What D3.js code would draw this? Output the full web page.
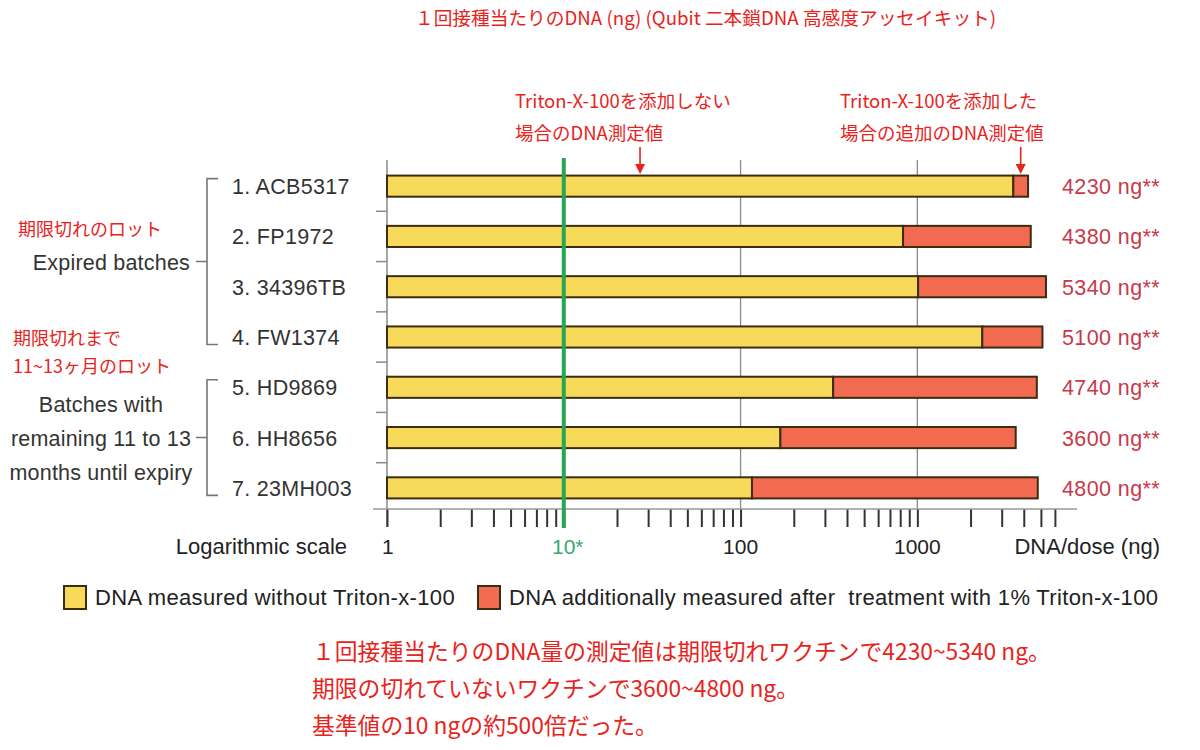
<!DOCTYPE html>
<html>
<head>
<meta charset="utf-8">
<script src="https://cdn.jsdelivr.net/npm/d3@7"></script>
<style>
  body { margin: 0; background: #fff; }
  svg { display: block; }
  .lat { font-family: "Liberation Sans", Arial, sans-serif; white-space: pre; }
  .jp { font-family: "Noto Sans CJK JP", sans-serif; }
</style>
</head>
<body>
<svg width="1200" height="750"></svg>
<script>
// data
const batches = ["1. ACB5317", "2. FP1972", "3. 34396TB", "4. FW1374", "5. HD9869", "6. HH8656", "7. 23MH003"];
const withoutTriton = [3490, 830, 1010, 2330, 334, 168, 116];
const totalDna = [4230, 4380, 5340, 5100, 4740, 3600, 4800];
const tickLabels = [[1, "1"], [10, "10*"], [100, "100"], [1000, "1000"]];
const minorTicks = [1, 2, 3, 4, 5, 6, 7, 8, 9, 10, 20, 30, 40, 50, 60, 70, 80, 90, 100,
  200, 300, 400, 500, 600, 700, 800, 900, 1000, 2000, 3000, 4000, 5000, 6000];
const groups = [
  { from: 0, to: 3, lines: ["Expired batches"], jp: ["期限切れのロット"] },
  { from: 4, to: 6, lines: ["Batches with", "remaining 11 to 13", "months until expiry"], jp: ["期限切れまで", "11~13ヶ月のロット"] }
];
const legendItems = ["DNA measured without Triton-x-100", "DNA additionally measured after\u00a0 treatment with 1% Triton-x-100"];
const bottomNotes = [
  "１回接種当たりのDNA量の測定値は期限切れワクチンで4230~5340 ng。",
  "期限の切れていないワクチンで3600~4800 ng。",
  "基準値の10 ngの約500倍だった。"
];

const red = "#e8231c";
const yellow = "#f8da5b";
const salmon = "#f26b50";
const outline = "#3b2c12";

const svg = d3.select("svg");

const x = d3.scaleLog().domain([1, 8000]).range([387, 1077]);
const y = d3.scaleBand().domain(batches).range([161, 513]).paddingInner(0.58).paddingOuter(0.29);
const bw = y.bandwidth();
const step = y.step();
const axisY = 509;
const plotTop = 160;

// title
svg.append("text").attr("class", "jp").attr("x", 415).attr("y", 25)
  .attr("font-size", 18.7).attr("fill", red)
  .text("１回接種当たりのDNA (ng) (Qubit 二本鎖DNA 高感度アッセイキット)");

// grid lines
svg.append("g").selectAll("line").data([100, 1000]).join("line")
  .attr("x1", d => x(d)).attr("x2", d => x(d))
  .attr("y1", plotTop).attr("y2", axisY)
  .attr("stroke", "#8a8a8a").attr("stroke-width", 1.3);

// left axis line + boundary ticks
svg.append("line").attr("x1", x(1)).attr("x2", x(1)).attr("y1", plotTop).attr("y2", axisY + 18)
  .attr("stroke", "#8a8a8a").attr("stroke-width", 1.5);
svg.append("g").selectAll("line").data(batches.slice(0, -1)).join("line")
  .attr("x1", x(1) - 11).attr("x2", x(1))
  .attr("y1", d => y(d) + bw + step * 0.29).attr("y2", d => y(d) + bw + step * 0.29)
  .attr("stroke", "#8a8a8a").attr("stroke-width", 1.5);

// bars
const rows = svg.append("g").selectAll("g").data(batches).join("g");
rows.append("rect")
  .attr("x", x(1)).attr("y", d => y(d))
  .attr("width", (d, i) => x(withoutTriton[i]) - x(1)).attr("height", bw)
  .attr("fill", yellow).attr("stroke", outline).attr("stroke-width", 2);
rows.append("rect")
  .attr("x", (d, i) => x(withoutTriton[i])).attr("y", d => y(d))
  .attr("width", (d, i) => x(totalDna[i]) - x(withoutTriton[i])).attr("height", bw)
  .attr("fill", salmon).attr("stroke", outline).attr("stroke-width", 2);

// value labels
rows.append("text").attr("class", "lat")
  .attr("x", 1062).attr("y", d => y(d) + bw / 2 + 8)
  .attr("font-size", 21.5).attr("letter-spacing", 0.4).attr("fill", "#c8394b")
  .text((d, i) => totalDna[i] + " ng**");

// batch labels
rows.append("text").attr("class", "lat")
  .attr("x", 232).attr("y", d => y(d) + bw / 2 + 8)
  .attr("font-size", 21.5).attr("letter-spacing", 0.3).attr("fill", "#333")
  .text(d => d);

// bottom axis
const axis = d3.axisBottom(x).tickValues(minorTicks).tickSize(18).tickSizeOuter(0).tickFormat("");
const ax = svg.append("g").attr("transform", `translate(0,${axisY})`).call(axis);
ax.select(".domain").remove();
ax.selectAll(".tick line").attr("stroke", "#333").attr("stroke-width", 2);
svg.append("line").attr("x1", x(1) - 14).attr("x2", x.range()[1]).attr("y1", axisY).attr("y2", axisY)
  .attr("stroke", "#999").attr("stroke-width", 1.3);

svg.append("g").selectAll("text").data(tickLabels).join("text").attr("class", "lat")
  .attr("x", d => x(d[0])).attr("y", 554)
  .attr("text-anchor", d => d[0] === 1 ? "start" : "middle")
  .attr("dx", d => d[0] === 1 ? -5 : (d[0] === 10 ? 4 : 0))
  .attr("font-size", 21)
  .attr("fill", d => d[0] === 10 ? "#3aa86a" : "#222")
  .text(d => d[1]);
svg.append("text").attr("class", "lat").attr("x", 347).attr("y", 554).attr("text-anchor", "end")
  .attr("font-size", 22).attr("fill", "#222").text("Logarithmic scale");
svg.append("text").attr("class", "lat").attr("x", 1160).attr("y", 554).attr("text-anchor", "end")
  .attr("font-size", 22).attr("fill", "#222").text("DNA/dose (ng)");

// reference line at 10 ng
svg.append("line").attr("x1", x(10)).attr("x2", x(10)).attr("y1", plotTop - 2).attr("y2", axisY + 19)
  .attr("stroke", "#27a653").attr("stroke-width", 4);

// group brackets
groups.forEach(g => {
  const y0 = y(batches[g.from]) + 3;
  const y1 = y(batches[g.to]) + bw - 3;
  const mid = (y0 + y1) / 2;
  svg.append("path")
    .attr("d", `M218,${y0}H207V${y1}H218M207,${mid}H196`)
    .attr("fill", "none").attr("stroke", "#777").attr("stroke-width", 1.6);
  const n = g.lines.length;
  g.lines.forEach((t, i) => {
    svg.append("text").attr("class", "lat")
      .attr("x", n > 1 ? 101 : 190).attr("text-anchor", n > 1 ? "middle" : "end")
      .attr("y", mid + 8 + (i - (n - 1) / 2) * 34)
      .attr("font-size", 21.5).attr("letter-spacing", 0.2).attr("fill", "#333").text(t);
  });
});
svg.append("text").attr("class", "jp").attr("x", 18).attr("y", 236)
  .attr("font-size", 18).attr("fill", red).text(groups[0].jp[0]);
groups[1].jp.forEach((t, i) => {
  svg.append("text").attr("class", "jp").attr("x", 13).attr("y", 345 + i * 28)
    .attr("font-size", 18).attr("fill", red).text(t);
});

// annotations with arrows
const notes = [
  { lines: ["Triton-X-100を添加しない", "場合のDNA測定値"], tx: 515, ax: x(27) },
  { lines: ["Triton-X-100を添加した", "場合の追加のDNA測定値"], tx: 840, ax: x(Math.sqrt(withoutTriton[0] * totalDna[0])) }
];
notes.forEach(n => {
  n.lines.forEach((t, i) => {
    svg.append("text").attr("class", "jp").attr("x", n.tx).attr("y", 108 + i * 32)
      .attr("font-size", 18.5).attr("fill", red).text(t);
  });
  svg.append("line").attr("x1", n.ax).attr("x2", n.ax).attr("y1", 147).attr("y2", 165)
    .attr("stroke", red).attr("stroke-width", 1.6);
  svg.append("path").attr("d", `M${n.ax - 5},${164}L${n.ax + 5},${164}L${n.ax},${174}Z`).attr("fill", red);
});

// legend
const legend = svg.append("g").attr("class", "lat");
const legX = [64, 478];
const legFill = [yellow, salmon];
legendItems.forEach((t, i) => {
  legend.append("rect").attr("x", legX[i]).attr("y", 586).attr("width", 22).attr("height", 23)
    .attr("fill", legFill[i]).attr("stroke", outline).attr("stroke-width", 2);
  legend.append("text").attr("x", legX[i] + 31).attr("y", 605)
    .attr("font-size", 22).attr("letter-spacing", 0.35).attr("fill", "#222").text(t);
});

// bottom notes
svg.append("g").selectAll("text").data(bottomNotes).join("text").attr("class", "jp")
  .attr("x", 312).attr("y", (d, i) => 660 + i * 37)
  .attr("font-size", 22.8).attr("fill", red).text(d => d);
</script>
</body>
</html>
